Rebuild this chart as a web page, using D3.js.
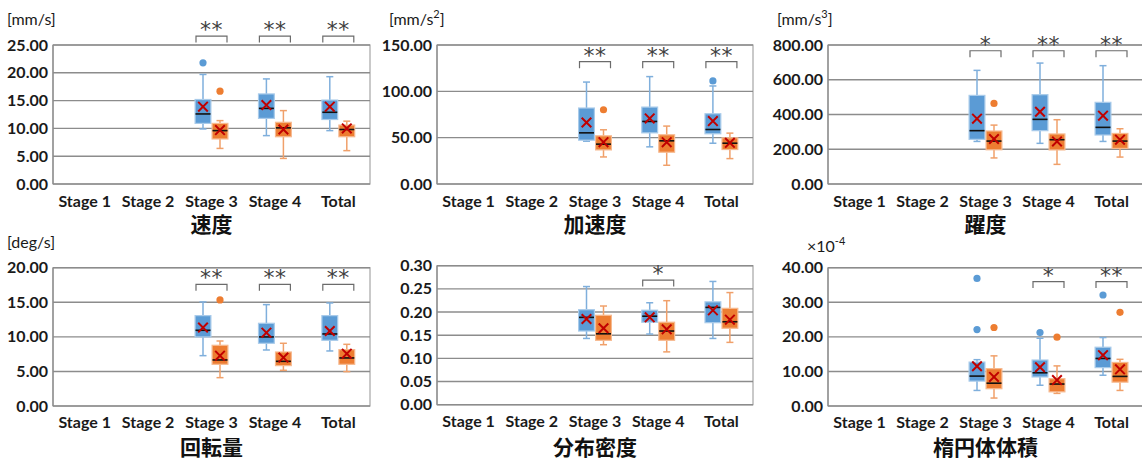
<!DOCTYPE html>
<html>
<head>
<meta charset="utf-8">
<script src="https://cdn.jsdelivr.net/npm/d3@7"></script>
<style>
  body { margin: 0; background: #fff; }
  svg { display: block; }
</style>
</head>
<body>
<svg id="chart" width="1142" height="461"></svg>
<script>
const categories = ["Stage 1", "Stage 2", "Stage 3", "Stage 4", "Total"];

// Box statistics per category: [lower whisker, Q1, median, Q3, upper whisker, mean]
// 速度 [mm/s]
const speedBlue   = [null, null, [9.9, 10.9, 12.6, 15.2, 19.7, 13.9], [8.7, 11.8, 13.6, 16.2, 18.9, 14.2], [9.6, 11.6, 12.9, 15.1, 19.3, 13.9]];
const speedOrange = [null, null, [6.4, 8.1, 9.6, 10.9, 11.4, 9.7], [4.6, 8.5, 10.1, 11.1, 13.2, 9.8], [6.0, 8.5, 9.8, 10.6, 11.3, 10.0]];
const speedBlueOut   = [[], [], [21.8], [], []];
const speedOrangeOut = [[], [], [16.7], [], []];
const speedSig = ["", "", "**", "**", "**"];
const speedTicks = [0, 5, 10, 15, 20, 25];

// 加速度 [mm/s^2]
const accBlue   = [null, null, [46.2, 47.3, 55.2, 82.0, 110.0, 66.4], [40.1, 55.2, 67.5, 83.0, 115.9, 70.8], [44.0, 54.2, 58.8, 75.8, 105.8, 67.9]];
const accOrange = [null, null, [29.2, 36.8, 43.0, 52.0, 58.5, 45.1], [20.2, 34.3, 46.6, 53.1, 62.5, 45.1], [27.4, 37.2, 44.0, 49.8, 54.9, 44.4]];
const accBlueOut   = [[], [], [], [], [111.2]];
const accOrangeOut = [[], [], [80.1], [], []];
const accSig = ["", "", "**", "**", "**"];
const accTicks = [0, 50, 100, 150];

// 躍度 [mm/s^3]
const jerkBlue   = [null, null, [245, 257, 307, 510, 654, 376], [234, 307, 372, 514, 696, 416], [245, 282, 326, 470, 681, 393]];
const jerkOrange = [null, null, [150, 197, 247, 305, 339, 259], [113, 196, 255, 288, 370, 245], [155, 205, 247, 291, 318, 255]];
const jerkBlueOut   = [[], [], [], [], []];
const jerkOrangeOut = [[], [], [464], [], []];
const jerkSig = ["", "", "*", "**", "**"];
const jerkTicks = [0, 200, 400, 600, 800];

// 回転量 [deg/s]
const rotBlue   = [null, null, [7.28, 9.99, 10.95, 13.07, 15.05, 11.34], [8.1, 9.07, 9.99, 11.96, 14.66, 10.6], [7.96, 9.5, 10.42, 13.07, 14.9, 10.85]];
const rotOrange = [null, null, [4.1, 6.03, 6.66, 8.78, 9.4, 7.28], [5.16, 5.84, 6.46, 7.81, 9.07, 7.0], [4.97, 6.03, 6.95, 8.15, 8.92, 7.57]];
const rotBlueOut   = [[], [], [], [], []];
const rotOrangeOut = [[], [], [15.34], [], []];
const rotSig = ["", "", "**", "**", "**"];
const rotTicks = [0, 5, 10, 15, 20];

// 分布密度
const densBlue   = [null, null, [0.143, 0.159, 0.1885, 0.205, 0.255, 0.185], [0.1525, 0.178, 0.191, 0.204, 0.220, 0.1885], [0.143, 0.177, 0.210, 0.222, 0.266, 0.2036]];
const densOrange = [null, null, [0.1295, 0.139, 0.153, 0.193, 0.213, 0.165], [0.114, 0.139, 0.159, 0.178, 0.2245, 0.1626], [0.1345, 0.165, 0.179, 0.208, 0.242, 0.1835]];
const densBlueOut   = [[], [], [], [], []];
const densOrangeOut = [[], [], [], [], []];
const densSig = ["", "", "", "*", ""];
const densTicks = [0, 0.05, 0.10, 0.15, 0.20, 0.25, 0.30];

// 楕円体体積 [x10^-4]
const volBlue   = [null, null, [4.5, 7.2, 8.65, 12.7, 13.4, 11.5], [6.0, 8.4, 9.6, 13.3, 19.6, 11.2], [8.9, 11.1, 13.75, 17.0, 19.8, 14.7]];
const volOrange = [null, null, [2.3, 5.0, 6.6, 10.8, 14.5, 8.4], [3.65, 4.1, 6.35, 7.9, 11.6, 7.5], [4.5, 6.9, 8.56, 12.6, 13.5, 10.6]];
const volBlueOut   = [[], [], [36.9, 22.1], [21.25], [32.1]];
const volOrangeOut = [[], [], [22.7], [19.9], [27.1]];
const volSig = ["", "", "", "*", "**"];
const volTicks = [0, 10, 20, 30, 40];

// Height of the significance bracket (data units) for each panel
const bracketLevels = [26.6, 132, 767, 17.6, 0.269, 36.0];

const titles = ["速度", "加速度", "躍度", "回転量", "分布密度", "楕円体体積"];

const colors = {
  blue: "#5B9BD5", blueEdge: "#A9CBEA", blueWhisker: "#7FAFDC",
  orange: "#ED7D31", orangeEdge: "#F6B98F", orangeWhisker: "#F0A06A",
  mean: "#C00000"
};

const latin = "Lato, 'Open Sans', 'Liberation Sans', sans-serif";
const cjk = "'Noto Sans CJK JP', 'Noto Sans CJK SC', sans-serif";

// Plot-area frames of the six panels
const frames = [
  { left: 53,  right: 370,  top: 45,    bottom: 184,   labelY: 206.5, titleY: 232, unit: { x: 7,   y: 25 } },
  { left: 437, right: 753,  top: 45,    bottom: 184,   labelY: 206.5, titleY: 232, unit: { x: 389, y: 25 } },
  { left: 828, right: 1143, top: 45,    bottom: 184,   labelY: 206.5, titleY: 232, unit: { x: 777, y: 25 } },
  { left: 53,  right: 370,  top: 267.7, bottom: 406,   labelY: 428,   titleY: 455, unit: { x: 7,   y: 248 } },
  { left: 437, right: 753,  top: 265.7, bottom: 404.7, labelY: 427,   titleY: 455, unit: null },
  { left: 828, right: 1143, top: 267.7, bottom: 406,   labelY: 428,   titleY: 455, unit: { x: 807, y: 252 } }
];

const panels = [
  { blue: speedBlue, orange: speedOrange, blueOut: speedBlueOut, orangeOut: speedOrangeOut, sig: speedSig, ticks: speedTicks, unit: ["[mm/s]", null, ""] },
  { blue: accBlue,   orange: accOrange,   blueOut: accBlueOut,   orangeOut: accOrangeOut,   sig: accSig,   ticks: accTicks,   unit: ["[mm/s", "2", "]"] },
  { blue: jerkBlue,  orange: jerkOrange,  blueOut: jerkBlueOut,  orangeOut: jerkOrangeOut,  sig: jerkSig,  ticks: jerkTicks,  unit: ["[mm/s", "3", "]"] },
  { blue: rotBlue,   orange: rotOrange,   blueOut: rotBlueOut,   orangeOut: rotOrangeOut,   sig: rotSig,   ticks: rotTicks,   unit: ["[deg/s]", null, ""] },
  { blue: densBlue,  orange: densOrange,  blueOut: densBlueOut,  orangeOut: densOrangeOut,  sig: densSig,  ticks: densTicks,  unit: null },
  { blue: volBlue,   orange: volOrange,   blueOut: volBlueOut,   orangeOut: volOrangeOut,   sig: volSig,   ticks: volTicks,   unit: ["×10", "-4", ""] }
];

const svg = d3.select("#chart");
const boxW = 17;
const capW = 7;

panels.forEach((p, pi) => {
  const f = frames[pi];
  const g = svg.append("g");
  const x = d3.scaleBand().domain(categories).range([f.left, f.right]);
  const y = d3.scaleLinear().domain([0, d3.max(p.ticks)]).range([f.bottom, f.top]);

  // plot-area frame
  g.append("rect")
    .attr("x", f.left).attr("y", f.top)
    .attr("width", f.right - f.left).attr("height", f.bottom - f.top)
    .attr("fill", "none").attr("stroke", "#a6a6a6").attr("stroke-width", 1.2);
  g.append("line")
    .attr("x1", f.left).attr("x2", f.left).attr("y1", f.top).attr("y2", f.bottom)
    .attr("stroke", "#8c8c8c").attr("stroke-width", 1.3);

  // horizontal gridlines
  g.selectAll("line.grid").data(p.ticks).join("line")
    .attr("class", "grid")
    .attr("x1", f.left).attr("x2", f.right)
    .attr("y1", d => y(d)).attr("y2", d => y(d))
    .attr("stroke", "#8c8c8c").attr("stroke-width", 1.4);

  // y axis labels
  const yAxis = d3.axisLeft(y).tickValues(p.ticks).tickFormat(d3.format(".2f")).tickSize(0).tickPadding(5);
  g.append("g").attr("transform", `translate(${f.left},0)`).call(yAxis)
    .call(a => a.select(".domain").remove())
    .selectAll("text")
    .attr("font-family", latin).attr("font-size", 16).attr("font-weight", "bold").attr("fill", "#1a1a1a");

  // category labels
  const xAxis = d3.axisBottom(x).tickSize(0).tickPadding(0);
  g.append("g").attr("transform", `translate(0,${f.labelY})`).call(xAxis)
    .call(a => a.select(".domain").remove())
    .selectAll("text")
    .attr("dy", 0).attr("y", 0)
    .attr("font-family", latin).attr("font-size", 16).attr("font-weight", "bold").attr("fill", "#1a1a1a");

  // panel title
  g.append("text")
    .attr("x", (f.left + f.right) / 2).attr("y", f.titleY)
    .attr("text-anchor", "middle")
    .attr("font-family", cjk).attr("font-size", 21).attr("font-weight", "bold").attr("fill", "#111")
    .text(titles[pi]);

  // unit label
  if (p.unit && f.unit) {
    const t = g.append("text")
      .attr("x", f.unit.x).attr("y", f.unit.y)
      .attr("font-family", latin).attr("font-size", 16).attr("fill", "#1a1a1a");
    t.append("tspan").text(p.unit[0]);
    if (p.unit[1]) {
      t.append("tspan").attr("dy", -7).attr("font-size", 11).text(p.unit[1]);
      if (p.unit[2]) t.append("tspan").attr("dy", 7).attr("font-size", 16).text(p.unit[2]);
    }
  }

  // box plots
  const series = [
    { data: p.blue, out: p.blueOut, fill: colors.blue, edge: colors.blueEdge, whisker: colors.blueWhisker, off: -boxW / 2 },
    { data: p.orange, out: p.orangeOut, fill: colors.orange, edge: colors.orangeEdge, whisker: colors.orangeWhisker, off: boxW / 2 }
  ];
  series.forEach(s => {
    categories.forEach((c, i) => {
      const st = s.data[i];
      if (!st) return;
      const [lo, q1, med, q3, hi, mean] = st;
      const cx = x(c) + x.bandwidth() / 2 + s.off;
      const w = g.append("g");
      // whiskers and caps
      [[lo, q1], [q3, hi]].forEach(([a, b]) => {
        w.append("line").attr("x1", cx).attr("x2", cx).attr("y1", y(a)).attr("y2", y(b))
          .attr("stroke", s.whisker).attr("stroke-width", 1.5);
      });
      [lo, hi].forEach(v => {
        w.append("line").attr("x1", cx - capW / 2).attr("x2", cx + capW / 2).attr("y1", y(v)).attr("y2", y(v))
          .attr("stroke", s.whisker).attr("stroke-width", 1.5);
      });
      // box
      w.append("rect")
        .attr("x", cx - boxW / 2 + 0.6).attr("y", y(q3))
        .attr("width", boxW - 1.2).attr("height", y(q1) - y(q3))
        .attr("fill", s.fill).attr("stroke", s.edge).attr("stroke-width", 1.2);
      // median
      w.append("line").attr("x1", cx - boxW / 2 + 1).attr("x2", cx + boxW / 2 - 1)
        .attr("y1", y(med)).attr("y2", y(med))
        .attr("stroke", "#111").attr("stroke-width", 1.6);
      // mean marker
      const m = 4.8, my = y(mean);
      w.append("path")
        .attr("d", `M${cx - m},${my - m}L${cx + m},${my + m}M${cx - m},${my + m}L${cx + m},${my - m}`)
        .attr("stroke", colors.mean).attr("stroke-width", 2).attr("fill", "none");
      // outliers
      s.out[i].forEach(v => {
        w.append("circle").attr("cx", cx).attr("cy", y(v)).attr("r", 3.6).attr("fill", s.fill);
      });
    });
  });

  // significance brackets
  categories.forEach((c, i) => {
    if (!p.sig[i]) return;
    const cx = x(c) + x.bandwidth() / 2;
    const yb = y(bracketLevels[pi]);
    g.append("path")
      .attr("d", `M${cx - 15.5},${yb + 6.5}V${yb}H${cx + 15.5}V${yb + 6.5}`)
      .attr("fill", "none").attr("stroke", "#6b6b6b").attr("stroke-width", 1.2);
    g.append("text")
      .attr("x", cx).attr("y", yb + 1)
      .attr("text-anchor", "middle")
      .attr("font-family", "'DejaVu Sans', sans-serif").attr("font-size", 22).attr("fill", "#404040")
      .attr("letter-spacing", 0.5)
      .text(p.sig[i]);
  });
});
</script>
</body>
</html>
